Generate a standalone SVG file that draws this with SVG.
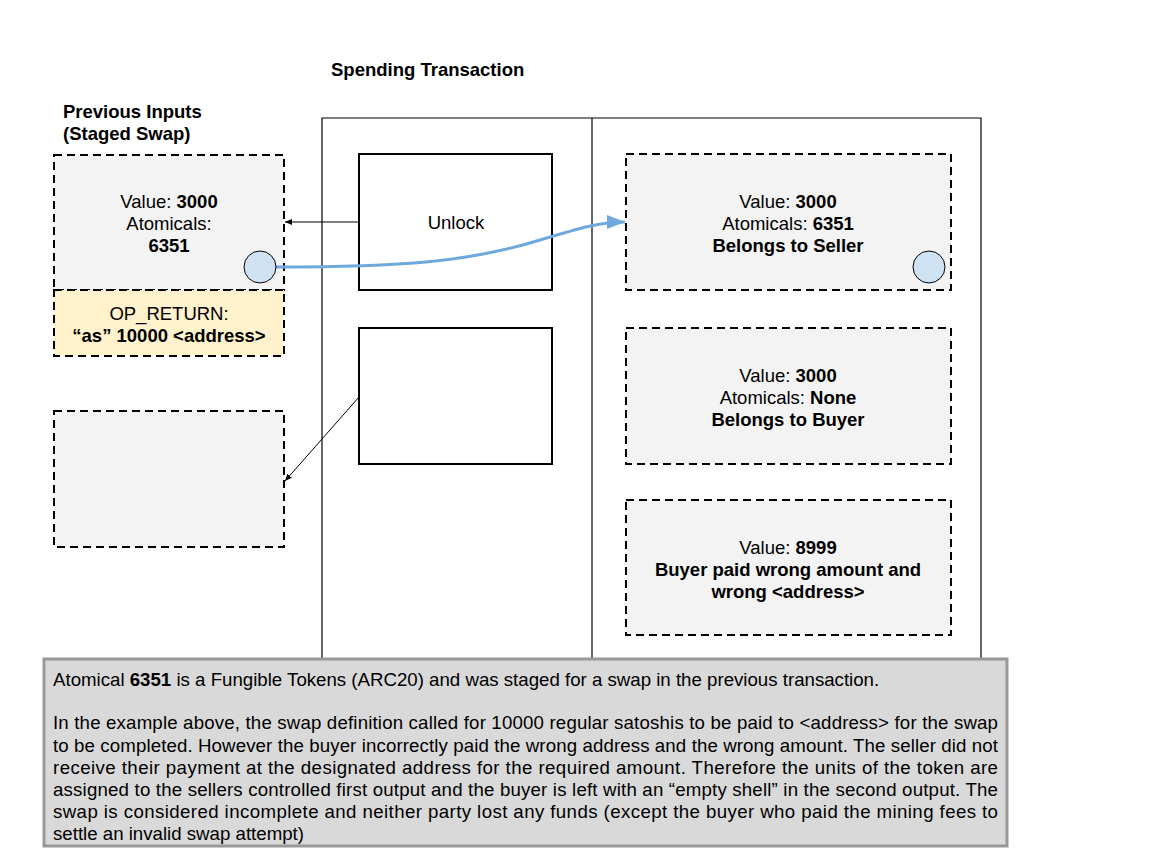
<svg xmlns="http://www.w3.org/2000/svg" width="1152" height="864" viewBox="0 0 1152 864">
<style>
text{font-family:"Liberation Sans",Arial,sans-serif;fill:#000}
.t{font-size:18.5px;text-anchor:middle}
.h{font-size:18.5px;font-weight:bold}
.b{font-weight:bold}
.in{fill:#f3f3f3;stroke:#000;stroke-width:2;stroke-dasharray:8,5}
.op{fill:#fff2cc;stroke:#000;stroke-width:2;stroke-dasharray:8,5}
.solid{fill:#fff;stroke:#000;stroke-width:2}
.dot{fill:#cfe2f3;stroke:#000;stroke-width:1}
.n{font-size:18.67px}
</style>
<defs>
<marker id="ah" markerWidth="8" markerHeight="8" refX="7" refY="4" orient="auto" markerUnits="userSpaceOnUse"><path d="M0,1 L7,4 L0,7 Z" fill="#000"/></marker>
<marker id="bh" markerWidth="20" markerHeight="20" refX="18" refY="10" orient="auto" markerUnits="userSpaceOnUse"><path d="M0,3 L18,10 L0,17 Z" fill="#6fa8dc"/></marker>
</defs>
<rect width="1152" height="864" fill="#fff"/>
<text class="h" x="331" y="76">Spending Transaction</text>
<g id="frame" fill="none" stroke="#000" stroke-width="1.2">
<path d="M322,660 V118 H981 V660"/>
<path d="M592,118 V660"/>
</g>
<g id="prev-title"><text class="h" x="63" y="118">Previous Inputs</text><text class="h" x="63" y="140">(Staged Swap)</text></g>
<g id="input1">
<rect class="in" x="54" y="155" width="230" height="135"/>
<text class="t" x="169" y="208">Value: <tspan class="b">3000</tspan></text>
<text class="t" x="169" y="230">Atomicals:</text>
<text class="t b" x="169" y="252">6351</text>
</g>
<g id="opreturn">
<rect class="op" x="54" y="290" width="230" height="66"/>
<text class="t" x="169" y="320">OP_RETURN:</text>
<text class="t b" x="169" y="342">“as” 10000 &lt;address&gt;</text>
</g>
<g id="input2"><rect class="in" x="54" y="411" width="230" height="136"/></g>
<g id="unlock"><rect class="solid" x="359" y="154" width="193" height="136"/><text class="t" x="456" y="229">Unlock</text></g>
<g id="unlock2"><rect class="solid" x="359" y="328" width="193" height="136"/></g>
<g id="out1">
<rect class="in" x="626" y="154" width="325" height="136"/>
<text class="t" x="788" y="208">Value: <tspan class="b">3000</tspan></text>
<text class="t" x="788" y="230">Atomicals: <tspan class="b">6351</tspan></text>
<text class="t b" x="788" y="252">Belongs to Seller</text>
</g>
<g id="out2">
<rect class="in" x="626" y="328" width="325" height="136"/>
<text class="t" x="788" y="382">Value: <tspan class="b">3000</tspan></text>
<text class="t" x="788" y="404">Atomicals: <tspan class="b">None</tspan></text>
<text class="t b" x="788" y="426">Belongs to Buyer</text>
</g>
<g id="out3">
<rect class="in" x="626" y="500" width="325" height="135"/>
<text class="t" x="788" y="554">Value: <tspan class="b">8999</tspan></text>
<text class="t b" x="788" y="576">Buyer paid wrong amount and</text>
<text class="t b" x="788" y="598">wrong &lt;address&gt;</text>
</g>
<g id="connectors" fill="none">
<path d="M359,222 H285" stroke="#000" stroke-width="1" marker-end="url(#ah)"/>
<path d="M359,397 L285,481" stroke="#000" stroke-width="1" marker-end="url(#ah)"/>
<path d="M276,267 C400,267 470,262 540,240 C580,228 600,222 625,222" stroke="#6fa8dc" stroke-width="3" marker-end="url(#bh)"/>
</g>
<g id="dots">
<circle class="dot" cx="260" cy="267" r="16"/>
<circle class="dot" cx="929" cy="267" r="16"/>
</g>
<g id="note">
<rect x="44" y="659" width="963" height="187" fill="#d9d9d9" stroke="#999" stroke-width="3"/>
<text class="n" x="53" y="686">Atomical <tspan class="b">6351</tspan> is a Fungible Tokens (ARC20) and was staged for a swap in the previous transaction.</text>
<text class="n" x="53" y="729" textLength="945" lengthAdjust="spacing">In the example above, the swap definition called for 10000 regular satoshis to be paid to &lt;address&gt; for the swap</text>
<text class="n" x="53" y="752" textLength="945" lengthAdjust="spacing">to be completed. However the buyer incorrectly paid the wrong address and the wrong amount. The seller did not</text>
<text class="n" x="53" y="774" textLength="945" lengthAdjust="spacing">receive their payment at the designated address for the required amount. Therefore the units of the token are</text>
<text class="n" x="53" y="796" textLength="945" lengthAdjust="spacing">assigned to the sellers controlled first output and the buyer is left with an “empty shell” in the second output. The</text>
<text class="n" x="53" y="818" textLength="945" lengthAdjust="spacing">swap is considered incomplete and neither party lost any funds (except the buyer who paid the mining fees to</text>
<text class="n" x="53" y="840">settle an invalid swap attempt)</text>
</g>
</svg>
